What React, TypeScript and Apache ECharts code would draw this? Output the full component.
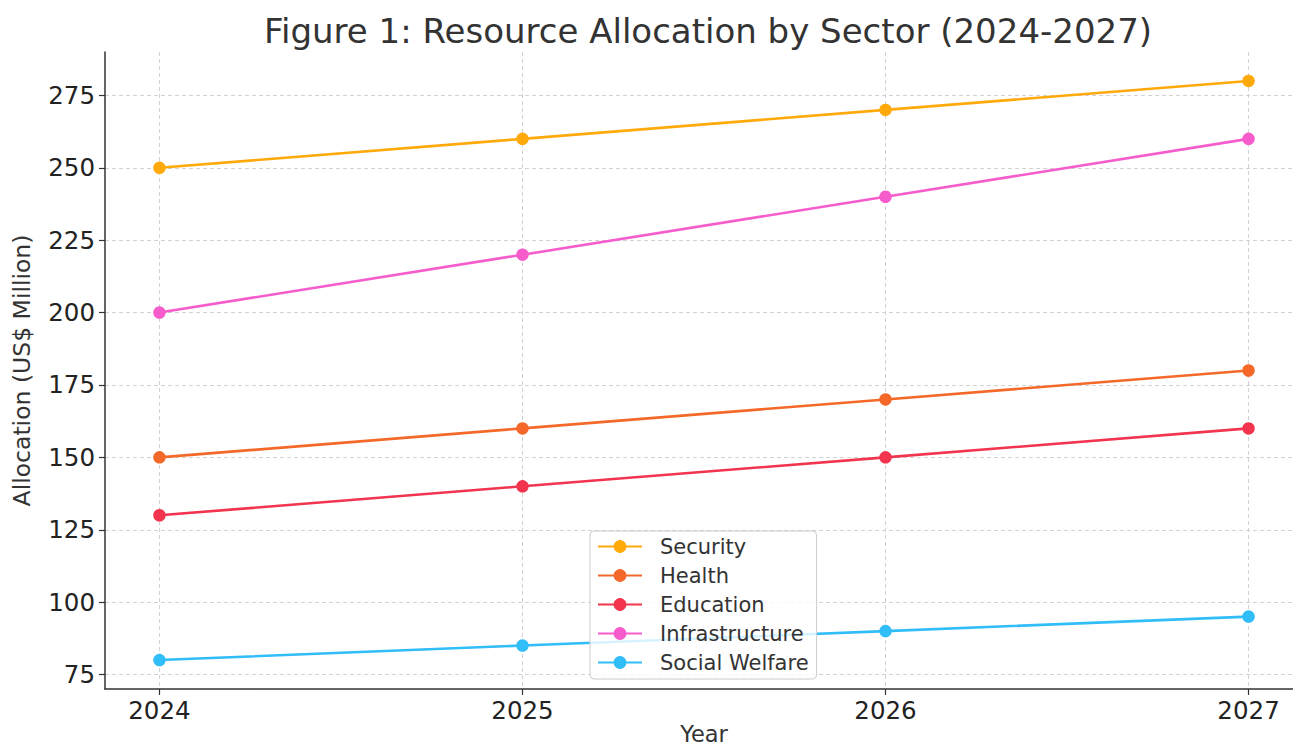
import React, { useEffect, useRef } from "react";
import * as echarts from "echarts";

const years = [2024, 2025, 2026, 2027];
const yTicks = [75, 100, 125, 150, 175, 200, 225, 250, 275];
const seriesNames = ["Security", "Health", "Education", "Infrastructure", "Social Welfare"];
const security = [250, 260, 270, 280];
const health = [150, 160, 170, 180];
const education = [130, 140, 150, 160];
const infrastructure = [200, 220, 240, 260];
const socialWelfare = [80, 85, 90, 95];
const colors = ["#FFA90A", "#F4692A", "#F2344F", "#F65CCB", "#30BDF8"];

const allValues = [security, health, education, infrastructure, socialWelfare];

export default function App() {
  const ref = useRef<HTMLDivElement>(null);
  useEffect(() => {
    document.body.style.margin = "0";
    const chart = echarts.init(ref.current!, null, { renderer: "svg" });
    const font = "DejaVu Sans";
    const gridLine = { show: true, lineStyle: { color: "#d2d2d2", type: [4, 3], width: 1 } };
    chart.setOption({
      animation: false,
      backgroundColor: "#ffffff",
      textStyle: { fontFamily: font },
      title: {
        text: "Figure 1: Resource Allocation by Sector (2024-2027)",
        left: 703,
        textAlign: "center",
        top: 9,
        textStyle: { fontFamily: font, fontSize: 34, fontWeight: "normal", color: "#333333" },
      },
      grid: { left: 105, right: -10, top: 52, bottom: 58, containLabel: false, outerBoundsMode: "none" },
      xAxis: {
        type: "value",
        min: 2023.85,
        max: 2027.15,
        name: "Year",
        nameLocation: "middle",
        nameGap: 33,
        nameMoveOverlap: false,
        nameTextStyle: { fontFamily: font, fontSize: 22.5, color: "#333333" },
        axisLine: { show: true, lineStyle: { color: "#333333", width: 1.5 } },
        axisTick: { show: true, customValues: years, length: 6, lineStyle: { color: "#333333", width: 1.2 } },
        axisLabel: {
          customValues: years,
          margin: 9,
          fontSize: 24.5,
          color: "#222222",
          fontFamily: font,
          formatter: (v: number) => String(v),
        },
        splitLine: gridLine,
      },
      yAxis: {
        type: "value",
        min: 70,
        max: 290,
        name: "Allocation (US$ Million)",
        nameLocation: "middle",
        nameGap: 71,
        nameMoveOverlap: false,
        nameTextStyle: { fontFamily: font, fontSize: 23.5, color: "#333333" },
        axisLine: { show: true, lineStyle: { color: "#333333", width: 1.5 } },
        axisTick: { show: true, customValues: yTicks, length: 6, lineStyle: { color: "#333333", width: 1.2 } },
        axisLabel: {
          customValues: yTicks,
          margin: 10,
          fontSize: 24.5,
          color: "#222222",
          fontFamily: font,
        },
        splitLine: gridLine,
      },
      legend: {
        orient: "vertical",
        left: 590,
        top: 531,
        padding: [5, 8, 6, 7],
        itemWidth: 44,
        itemHeight: 16,
        itemGap: 8,
        backgroundColor: "rgba(255,255,255,0.8)",
        borderColor: "#cccccc",
        borderWidth: 1,
        borderRadius: 4,
        textStyle: { fontFamily: font, fontSize: 21, color: "#333333", padding: [0, 0, 0, 13] },
        data: seriesNames,
      },
      series: seriesNames.map((name, i) => ({
        name,
        type: "line",
        data: years.map((y, j) => [y, allValues[i][j]]),
        symbol: "circle",
        symbolSize: 12.5,
        itemStyle: { color: colors[i] },
        lineStyle: { color: colors[i], width: 2.6 },
        z: 3,
      })),
    });
    return () => chart.dispose();
  }, []);
  return <div ref={ref} style={{ width: 1293, height: 747, position: "absolute", left: 0, top: 0 }} />;
}
